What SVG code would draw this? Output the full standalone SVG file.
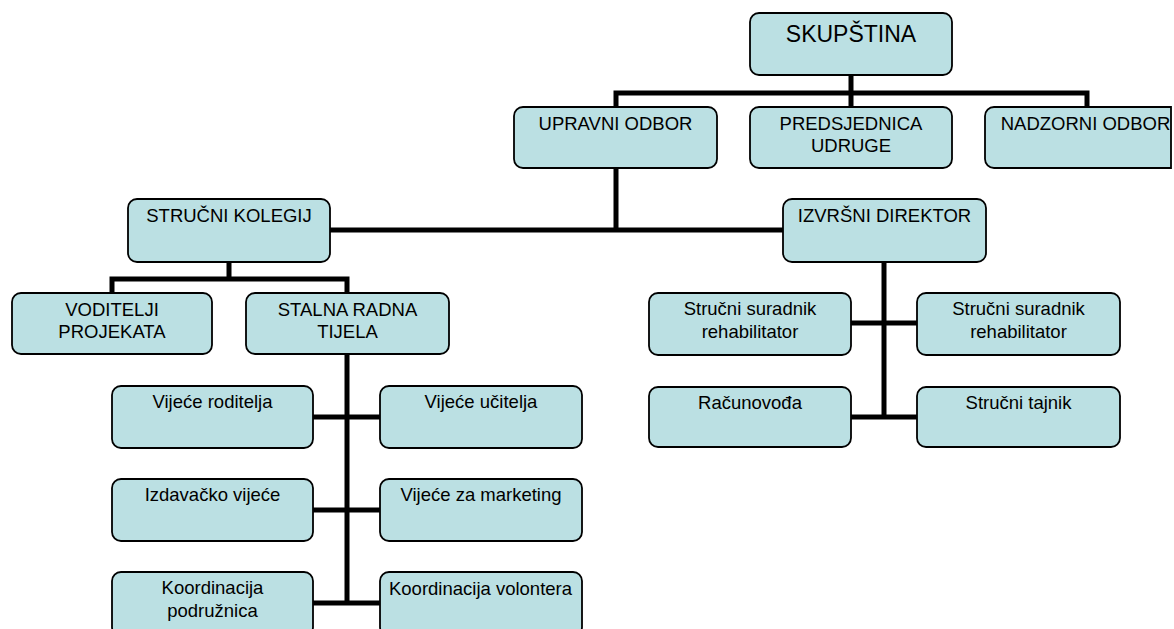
<svg xmlns="http://www.w3.org/2000/svg" width="1174" height="629" viewBox="0 0 1174 629">
<style>
.box{fill:#BBE0E3;stroke:#000;stroke-width:1.8}
.lbl{font-family:"Liberation Sans",Arial,sans-serif;font-size:18.5px;fill:#000;text-anchor:middle}
.big{font-size:23px}
.con{stroke:#000;stroke-width:5;fill:none;stroke-linecap:square}
</style>
<rect width="1174" height="629" fill="#fff"/>
<g id="connectors">
<path class="con" d="M851 75V93M616 93H1087M616 93V107M851 93V107M1087 93V107"/>
<path class="con" d="M616 168V230M330 230H783"/>
<path class="con" d="M229 262V279M112 279H347M112 279V293M347 279V293"/>
<path class="con" d="M347 354V603M313 417H380M313 510H380M313 603H380"/>
<path class="con" d="M884 262V417M851 323H917M851 417H917"/>
</g>
<g id="skupstina"><rect class="box" x="750" y="13" width="202" height="62" rx="9"/><text class="lbl big" x="851" y="42">SKUPŠTINA</text></g>
<g id="upravni-odbor"><rect class="box" x="514" y="107" width="203" height="61" rx="9"/><text class="lbl" x="615.5" y="129.5">UPRAVNI ODBOR</text></g>
<g id="predsjednica"><rect class="box" x="750" y="107" width="202" height="61" rx="9"/><text class="lbl" x="851" y="129.5">PREDSJEDNICA</text><text class="lbl" x="851" y="152">UDRUGE</text></g>
<g id="nadzorni-odbor"><path class="box" d="M994 107H1171V168H994A9 9 0 0 1 985 159V116A9 9 0 0 1 994 107Z"/><text class="lbl" x="1085.5" y="129.5">NADZORNI ODBOR</text></g>
<g id="strucni-kolegij"><rect class="box" x="128" y="199" width="202" height="63" rx="9"/><text class="lbl" x="229" y="221.5">STRUČNI KOLEGIJ</text></g>
<g id="izvrsni-direktor"><rect class="box" x="783" y="199" width="203" height="63" rx="9"/><text class="lbl" x="884.5" y="221.5">IZVRŠNI DIREKTOR</text></g>
<g id="voditelji"><rect class="box" x="12" y="293" width="200" height="61" rx="9"/><text class="lbl" x="112" y="315.5">VODITELJI</text><text class="lbl" x="112" y="337.5">PROJEKATA</text></g>
<g id="stalna"><rect class="box" x="246" y="293" width="203" height="61" rx="9"/><text class="lbl" x="347.5" y="315.5">STALNA RADNA</text><text class="lbl" x="347.5" y="337.5">TIJELA</text></g>
<g id="suradnik-l"><rect class="box" x="649" y="293" width="202" height="62" rx="9"/><text class="lbl" x="750" y="314.5">Stručni suradnik</text><text class="lbl" x="750" y="337.5">rehabilitator</text></g>
<g id="suradnik-r"><rect class="box" x="917" y="293" width="203" height="62" rx="9"/><text class="lbl" x="1018.5" y="314.5">Stručni suradnik</text><text class="lbl" x="1018.5" y="337.5">rehabilitator</text></g>
<g id="racunovoda"><rect class="box" x="649" y="387" width="202" height="60" rx="9"/><text class="lbl" x="750" y="408.5">Računovođa</text></g>
<g id="tajnik"><rect class="box" x="917" y="387" width="203" height="60" rx="9"/><text class="lbl" x="1018.5" y="408.5">Stručni tajnik</text></g>
<g id="vijece-roditelja"><rect class="box" x="112" y="386" width="201" height="62" rx="9"/><text class="lbl" x="212.5" y="407.5">Vijeće roditelja</text></g>
<g id="vijece-ucitelja"><rect class="box" x="380" y="386" width="202" height="62" rx="9"/><text class="lbl" x="481" y="407.5">Vijeće učitelja</text></g>
<g id="izdavacko"><rect class="box" x="112" y="479" width="201" height="62" rx="9"/><text class="lbl" x="212.5" y="501">Izdavačko vijeće</text></g>
<g id="marketing"><rect class="box" x="380" y="479" width="202" height="62" rx="9"/><text class="lbl" x="481" y="501">Vijeće za marketing</text></g>
<g id="podruznica"><rect class="box" x="112" y="572" width="201" height="64" rx="9"/><text class="lbl" x="212.5" y="594">Koordinacija</text><text class="lbl" x="212.5" y="616.5">podružnica</text></g>
<g id="volontera"><rect class="box" x="380" y="572" width="202" height="64" rx="9"/><text class="lbl" x="480.5" y="594.5">Koordinacija volontera</text></g>
</svg>
